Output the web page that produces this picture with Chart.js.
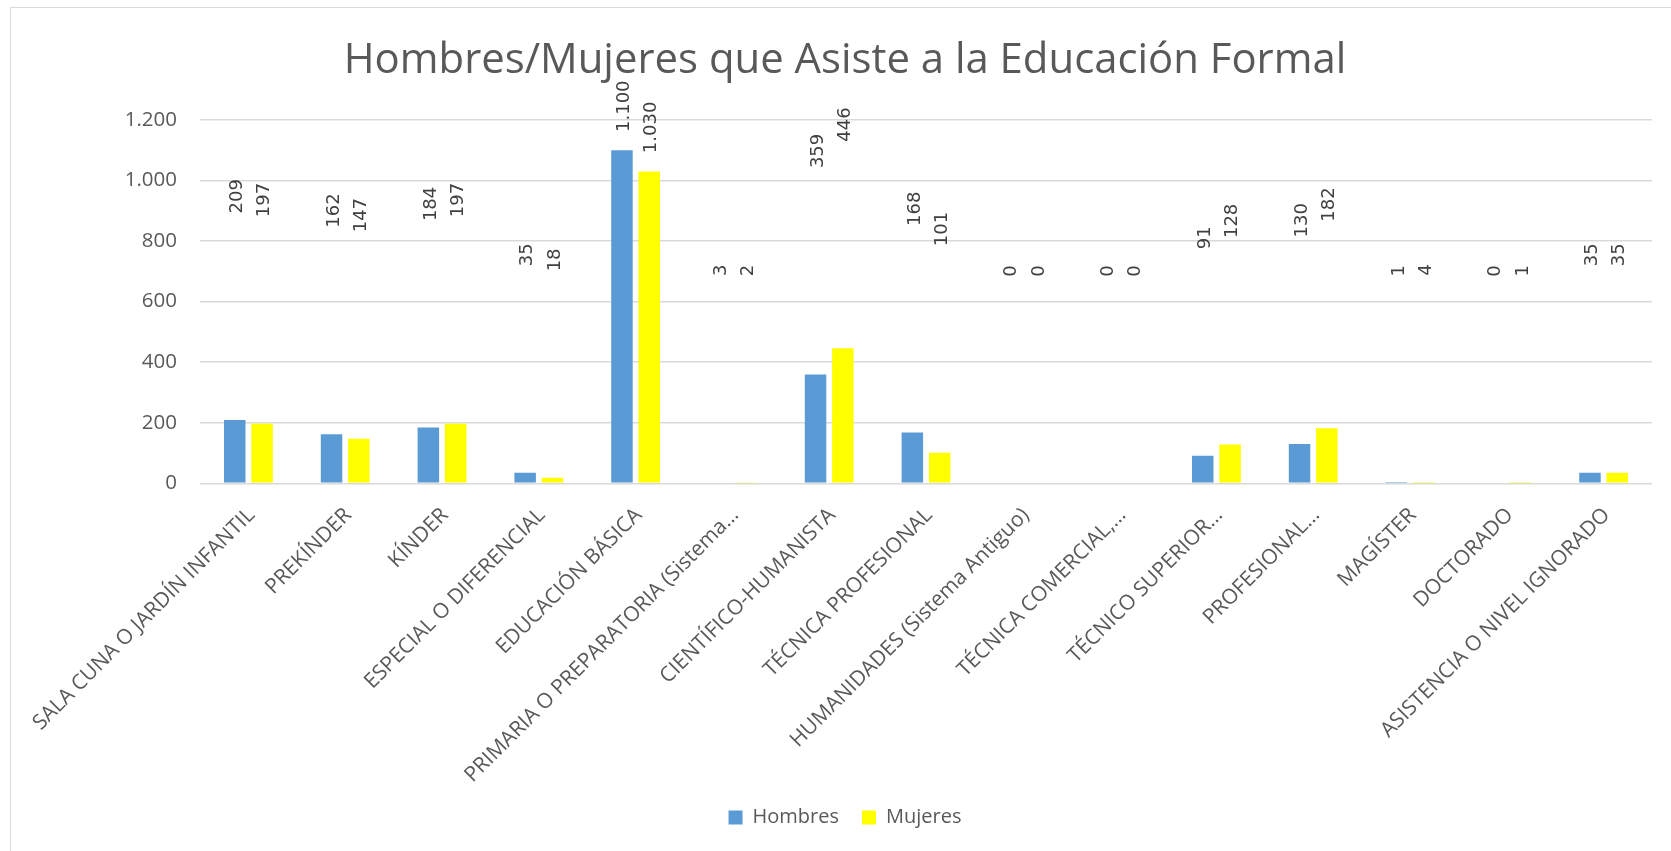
<!DOCTYPE html>
<html><head><meta charset="utf-8">
<script src="https://cdn.jsdelivr.net/npm/chart.js@4.4.1/dist/chart.umd.min.js"></script>
<style>
html,body{margin:0;padding:0;background:#fff;overflow:hidden;width:1671px;height:851px;}
#frame{position:absolute;left:10px;top:7px;width:1668px;height:850px;border:1px solid #d9d9d9;background:#fff;}
#c{display:block;}
</style></head><body>
<div id="frame"><canvas id="c" width="1668" height="843"></canvas></div>
<script>
const titleText = 'Hombres/Mujeres que Asiste a la Educación Formal';
const categories = [
  'SALA CUNA O JARDÍN INFANTIL',
  'PREKÍNDER',
  'KÍNDER',
  'ESPECIAL O DIFERENCIAL',
  'EDUCACIÓN BÁSICA',
  'PRIMARIA O PREPARATORIA (Sistema…',
  'CIENTÍFICO-HUMANISTA',
  'TÉCNICA PROFESIONAL',
  'HUMANIDADES (Sistema Antiguo)',
  'TÉCNICA COMERCIAL,…',
  'TÉCNICO SUPERIOR…',
  'PROFESIONAL…',
  'MAGÍSTER',
  'DOCTORADO',
  'ASISTENCIA O NIVEL IGNORADO'
];
const hombres = [209, 162, 184, 35, 1100, 3, 359, 168, 0, 0, 91, 130, 1, 0, 35];
const mujeres = [197, 147, 197, 18, 1030, 2, 446, 101, 0, 0, 128, 182, 4, 1, 35];
const seriesNames = ['Hombres', 'Mujeres'];
const seriesColors = ['#5B9BD5', '#FFFF00'];
const yTickValues = [0, 200, 400, 600, 800, 1000, 1200];
const yTickLabels = ['0', '200', '400', '600', '800', '1.000', '1.200'];

const TEXT_GRAY = '#595959';
const LABEL_GAP = 206.5;
const LABEL_GAP_NEAR = 18.3;

function fmt(n) { return String(n).replace(/\B(?=(\d{3})+(?!\d))/g, '.'); }

// fit title font size to the reference title width
const mctx = document.createElement('canvas').getContext('2d');
mctx.font = '400 100px "Open Sans"';
const titleSize = 100 * 1003 / mctx.measureText(titleText).width;
const titleLH = titleSize * 1.2;
const titleMid = 53.5;
const plotTop = 112;

const valueLabels = {
  id: 'valueLabels',
  afterDatasetsDraw(chart) {
    const ctx = chart.ctx;
    ctx.save();
    ctx.font = '18px "DejaVu Sans"';
    ctx.fillStyle = '#404040';
    ctx.textAlign = 'left';
    ctx.textBaseline = 'middle';
    chart.data.datasets.forEach((ds, di) => {
      const meta = chart.getDatasetMeta(di);
      meta.data.forEach((bar, i) => {
        const txt = fmt(ds.data[i]);
        const w = ctx.measureText(txt).width;
        let start = bar.y - LABEL_GAP;
        if (start - w < chart.chartArea.top - 60) start = bar.y - LABEL_GAP_NEAR;
        ctx.save();
        ctx.translate(bar.x + 2.5, start);
        ctx.rotate(-Math.PI / 2);
        ctx.fillText(txt, 0, 0);
        ctx.restore();
      });
    });
    ctx.restore();
  }
};

Chart.defaults.font.family = '"Open Sans"';
Chart.defaults.color = TEXT_GRAY;

new Chart(document.getElementById('c'), {
  type: 'bar',
  data: {
    labels: categories,
    datasets: [
      { label: seriesNames[0], data: hombres, backgroundColor: seriesColors[0], borderWidth: 0, yAxisID: 'y',
        categoryPercentage: 0.564, barPercentage: 0.7875 },
      { label: seriesNames[1], data: mujeres, backgroundColor: seriesColors[1], borderWidth: 0, yAxisID: 'y',
        categoryPercentage: 0.564, barPercentage: 0.7875 }
    ]
  },
  options: {
    responsive: false,
    animation: false,
    devicePixelRatio: 1,
    layout: { padding: { top: 0, left: 0, right: 0, bottom: 13.5 } },
    plugins: {
      title: {
        display: true,
        text: titleText,
        color: TEXT_GRAY,
        font: { family: '"Open Sans"', size: titleSize, weight: '400', lineHeight: 1.2 },
        padding: { top: titleMid - titleLH / 2, bottom: plotTop - titleMid - titleLH / 2 }
      },
      legend: {
        position: 'bottom',
        labels: {
          boxWidth: 14, boxHeight: 14, padding: 23, color: TEXT_GRAY,
          font: { family: '"Open Sans"', size: 20 }
        }
      },
      tooltip: { enabled: false }
    },
    scales: {
      x: {
        afterFit: s => { s.height = 301.2; s.paddingLeft = 0; s.paddingRight = 0; },
        grid: { display: false, drawTicks: false },
        border: { display: false },
        ticks: {
          autoSkip: false, minRotation: 45, maxRotation: 45, padding: 19.6, labelOffset: 3,
          color: TEXT_GRAY, font: { family: '"Open Sans"', size: 21 }
        }
      },
      y: {
        min: 0, max: 1200,
        afterFit: s => { s.width = 189; },
        grid: { color: '#d9d9d9', lineWidth: 1.5, drawTicks: false },
        border: { display: false },
        afterBuildTicks: s => { s.ticks = yTickValues.map(v => ({ value: v })); },
        ticks: {
          padding: 23, color: TEXT_GRAY, font: { family: '"Open Sans"', size: 20.5 },
          callback: v => yTickLabels[yTickValues.indexOf(v)]
        }
      },
      yR: {
        position: 'right', display: true,
        afterFit: s => { s.width = 27; },
        ticks: { display: false },
        grid: { display: false, drawTicks: false },
        border: { display: false }
      }
    }
  },
  plugins: [valueLabels]
});
</script>
</body></html>
